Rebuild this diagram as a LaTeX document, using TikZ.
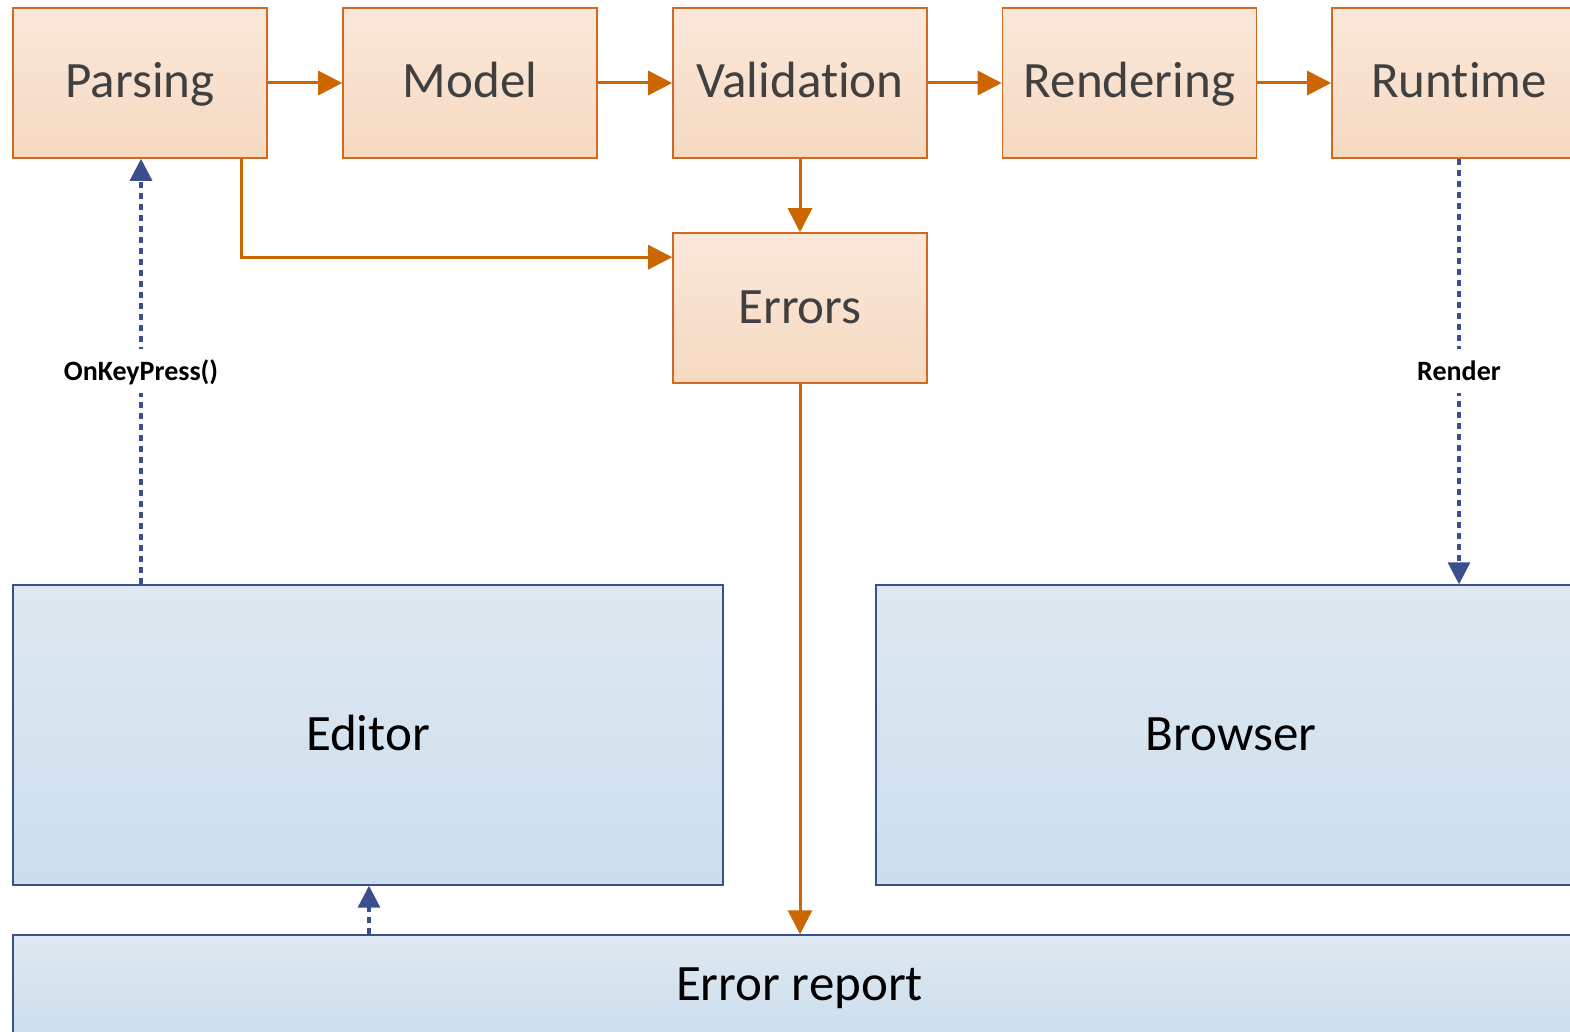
\documentclass[tikz,border=0pt]{standalone}
\usepackage{fontspec}
\setmainfont{Carlito}[Ligatures=NoCommon]
\usetikzlibrary{arrows.meta}
\definecolor{obord}{HTML}{D2691E}
\definecolor{oarrow}{HTML}{CC6600}
\definecolor{otop}{HTML}{FAE8DA}
\definecolor{obot}{HTML}{F6D9C1}
\definecolor{bbord}{HTML}{3B4F8E}
\definecolor{btop}{HTML}{DFE9F2}
\definecolor{bbot}{HTML}{CCDEEC}
\definecolor{darrow}{HTML}{3B4F8E}
\definecolor{txtgray}{HTML}{404040}
\tikzset{
  obox/.style={draw=obord, line width=1.6pt, top color=otop, bottom color=obot,
    minimum width=254pt, minimum height=150pt, inner sep=0pt,
    font=\fontsize{51}{60}\selectfont, text=txtgray, text height=36pt, text depth=6pt},
  bbox/.style={draw=bbord, line width=1.4pt, top color=btop, bottom color=bbot,
    inner sep=0pt, font=\fontsize{51}{60}\selectfont, text=black, text height=36pt, text depth=6pt},
  oarr/.style={draw=oarrow, line width=3pt, -{Triangle[length=24pt,width=24pt]}},
  barr/.style={draw=darrow, line width=3.2pt, dash pattern=on 6pt off 5pt, -{Triangle[length=22pt,width=22pt]}},
  lbl/.style={fill=white, inner xsep=3pt, inner ysep=7pt, font=\fontsize{28}{32}\selectfont\bfseries, text=black,
    text height=24pt, text depth=6pt}
}
\begin{document}
\begin{tikzpicture}[x=1pt,y=-1pt]
\clip (0,0) rectangle (1570,1032);
\node[obox] (parsing) at (140,83) {Parsing};
\node[obox] (model) at (470,83) {Model};
\node[obox] (valid) at (800,83) {Validation};
\node[obox] (render) at (1129.5,83) {Rendering};
\node[obox] (runtime) at (1459,83) {Runtime};
\node[obox] (errors) at (800,308) {Errors};
\node[bbox, minimum width=710pt, minimum height=300pt] (editor) at (368,735) {Editor};
\node[bbox, minimum width=710pt, minimum height=300pt] (browser) at (1231,735) {Browser};
\node[bbox, minimum width=1573pt, minimum height=100pt] (report) at (799.5,985) {Error report};
\coordinate (pb) at (241,158);
\coordinate (ein) at ([yshift=-25pt]errors.north west);
\draw[oarr] (parsing.east) -- (model.west);
\draw[oarr] (model.east) -- (valid.west);
\draw[oarr] (valid.east) -- (render.west);
\draw[oarr] (render.east) -- (runtime.west);
\draw[oarr] (valid.south) -- (errors.north);
\draw[oarr] (pb) |- (ein);
\draw[oarr] (errors.south) -- (report.north -| errors.south);
\draw[barr] (editor.north -| 141,0) -- (parsing.south -| 141,0);
\draw[barr] (runtime.south) -- (browser.north -| runtime.south);
\draw[barr] (report.north -| 369,0) -- (editor.south -| 369,0);
\node[lbl] (l1) at (141,371) {OnKeyPress()};
\node[lbl] (l2) at (1459,371) {Render};
\end{tikzpicture}
\end{document}
